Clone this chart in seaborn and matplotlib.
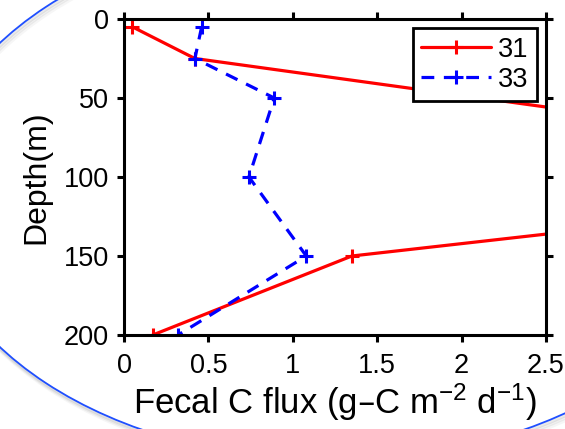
import numpy as np
import pandas as pd
import matplotlib
matplotlib.use('Agg')
import matplotlib.pyplot as plt
from matplotlib.patches import Ellipse
import seaborn as sns

# station 31 (the 100 m value runs off the right edge of the plot)
depth_31 = [5, 25, 100, 150, 200]
flux_31 = [0.05, 0.42, 5.5, 1.35, 0.17]

# station 33
depth_33 = [5, 25, 50, 100, 150, 200]
flux_33 = [0.46, 0.42, 0.89, 0.74, 1.08, 0.32]

xticks = [0, 0.5, 1, 1.5, 2, 2.5]
xticklabels = ['0', '0.5', '1', '1.5', '2', '2.5']
yticks = [0, 50, 100, 150, 200]

df31 = pd.DataFrame({'flux': flux_31, 'depth': depth_31})
df33 = pd.DataFrame({'flux': flux_33, 'depth': depth_33})

sns.set_style('ticks')
plt.rcParams['font.family'] = ['Liberation Sans', 'DejaVu Sans']
plt.rcParams['mathtext.default'] = 'regular'
for key in ['text.color', 'axes.labelcolor', 'xtick.color', 'ytick.color', 'axes.edgecolor']:
    plt.rcParams[key] = 'black'

fig = plt.figure(figsize=(5.65, 4.29), dpi=100)
W, H = 565, 429

# slide decoration: big blue oval with a soft shadow
cx, cy, a, b = 333, 195, 406, 266
for k, al in [(3, 0.07), (2, 0.11), (1, 0.16)]:
    fig.add_artist(Ellipse(((cx + k) / W, 1 - (cy + 2 * k) / H), 2 * a / W, 2 * b / H,
                           transform=fig.transFigure, fill=False,
                           edgecolor='grey', lw=2.5, alpha=al))
fig.add_artist(Ellipse((cx / W, 1 - cy / H), 2 * a / W, 2 * b / H,
                       transform=fig.transFigure, fill=False,
                       edgecolor='#1f4fff', lw=1.3))

ax = fig.add_axes([124 / W, 1 - 335 / H, (546 - 124) / W, (335 - 19) / H])

sns.lineplot(data=df31, x='flux', y='depth', sort=False, estimator=None, ax=ax,
             color='red', lw=2.3, marker='+', ms=10, mew=2.2, mec='red', label='31')
sns.lineplot(data=df33, x='flux', y='depth', sort=False, estimator=None, ax=ax,
             color='blue', lw=2.3, linestyle=(0, (4, 3)), marker='+', ms=10, mew=2.2,
             mec='blue', label='33')

ax.set_xlim(0, 2.5)
ax.set_ylim(200, 0)
ax.set_xticks(xticks)
ax.set_xticklabels(xticklabels)
ax.set_yticks(yticks)
ax.tick_params(direction='out', length=5, width=2.2, labelsize=19.5,
               top=True, right=True, color='black')
ax.tick_params(axis='x', pad=8)
ax.tick_params(axis='y', pad=6)
for s in ax.spines.values():
    s.set_linewidth(2.2)
    s.set_color('black')

ax.set_xlabel('Fecal C flux (g\u2013C m$^{-2}$ d$^{-1}$)', fontsize=25, labelpad=2)
ax.set_ylabel('Depth(m)', fontsize=23, labelpad=9)

leg = ax.legend(loc='upper right', fontsize=19.5, frameon=True, fancybox=False,
                framealpha=1, handlelength=2.6, handletextpad=0.25, labelspacing=0.15,
                borderpad=0.3, borderaxespad=0.35)
leg.get_frame().set_edgecolor('black')
leg.get_frame().set_linewidth(2.0)

fig.savefig('out.png', dpi=100)
